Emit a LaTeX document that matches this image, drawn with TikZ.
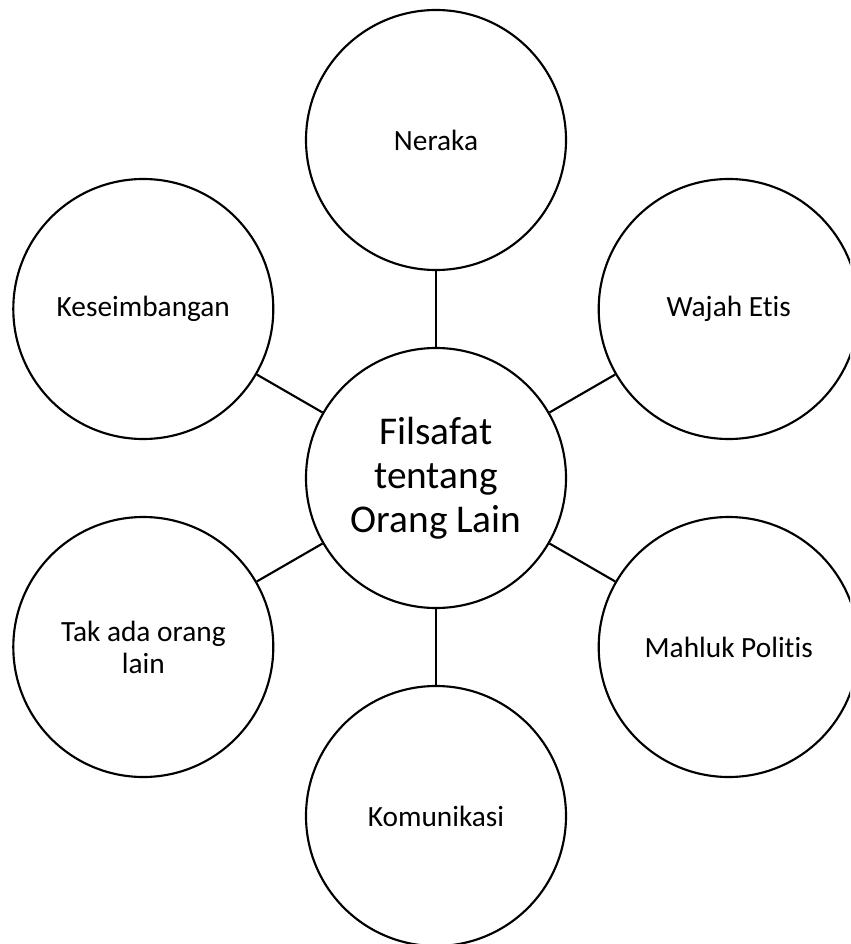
\documentclass[tikz,border=0pt]{standalone}
\usepackage{fontspec}
\setmainfont[Ligatures=NoCommon]{Carlito}
\begin{document}
\begin{tikzpicture}[x=0.75pt,y=-0.75pt,
  bubble/.style={draw=black,line width=1.6pt,circle,minimum size=195pt,inner sep=0pt,align=center,font=\fontsize{22}{24}\selectfont},
  hub/.style={bubble,font=\fontsize{29.5}{33}\selectfont},
  link/.style={draw=black,line width=1.6pt}]
\clip (0,0) rectangle (850,944);
\fill[white] (0,0) rectangle (850,944);
\node[hub] (c) at (436,478) {Filsafat\\tentang\\Orang Lain};
\node[bubble] (n) at (436,140) {Neraka};
\node[bubble] (w) at (728.7,309) {Wajah Etis};
\node[bubble] (m) at (728.7,647) {Mahluk Politis};
\node[bubble] (k) at (436,816) {Komunikasi};
\node[bubble] (t) at (143.3,647) {Tak ada orang\\lain};
\node[bubble] (e) at (143.3,309) {Keseimbangan};
\foreach \x in {n,w,m,k,t,e} \draw[link] (c) -- (\x);
\end{tikzpicture}
\end{document}
